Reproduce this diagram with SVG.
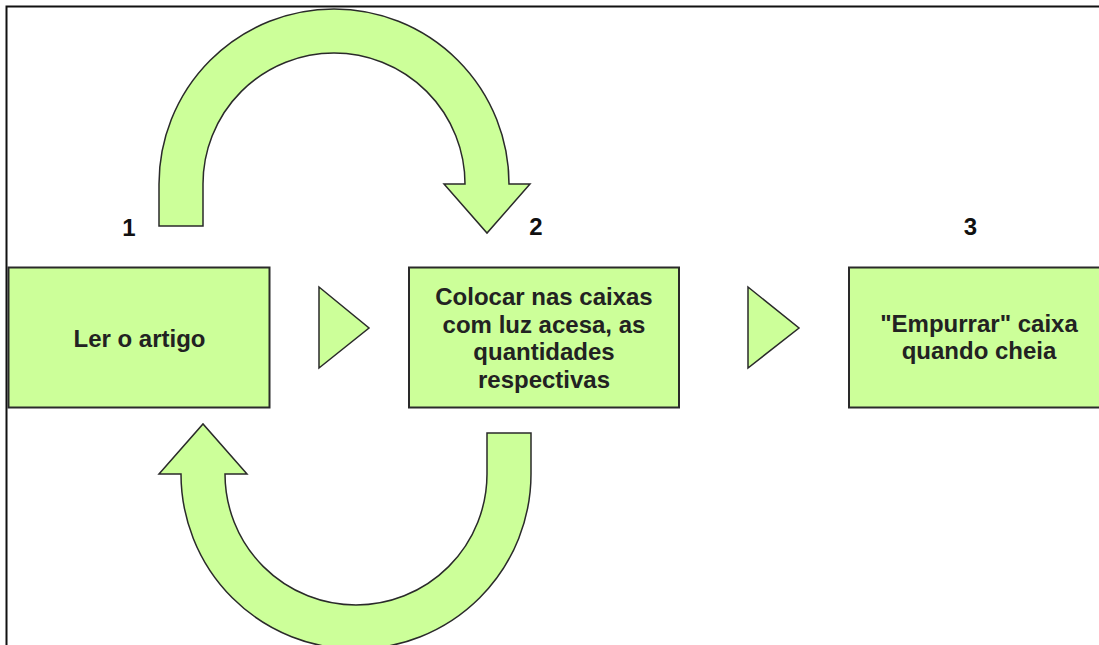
<svg xmlns="http://www.w3.org/2000/svg" width="1099" height="645" viewBox="0 0 1099 645">
<style>
.shape{fill:#ccff99;stroke:#2a2a2a;stroke-width:1.5;stroke-linejoin:miter}
.box{fill:#ccff99;stroke:#2a2a2a;stroke-width:2}
.lbl{font-family:"Liberation Sans",Arial,sans-serif;font-weight:bold;font-size:24px;fill:#222;text-anchor:middle}
.num{font-family:"Liberation Sans",Arial,sans-serif;font-weight:bold;font-size:24px;fill:#111;text-anchor:middle}
</style>
<rect x="0" y="0" width="1099" height="645" fill="#ffffff"/>
<rect x="6.5" y="6.5" width="1100" height="650" fill="none" stroke="#111" stroke-width="2"/>
<g id="connectors">
<path class="shape" d="M 159 226 L 159 184 A 175 175 0 0 1 509 184 L 530 184 L 487 233 L 444 184 L 465 184 A 131 131 0 0 0 203 184 L 203 226 Z"/>
<path class="shape" d="M 487 433 L 531 433 L 531 474 A 175 175 0 0 1 181 474 L 159 474 L 203 424 L 247 474 L 225 474 A 131 131 0 0 0 487 474 Z"/>
<polygon class="shape" points="319,287 369,328 319,368"/>
<polygon class="shape" points="748,287 799,328 748,368"/>
</g>
<g id="node1">
<rect class="box" x="8.5" y="267.5" width="261" height="140"/>
<text class="lbl" x="139.5" y="347">Ler o artigo</text>
<text class="num" x="129" y="236">1</text>
</g>
<g id="node2">
<rect class="box" x="409" y="267.5" width="270" height="140"/>
<text class="lbl" x="544" y="305">Colocar nas caixas</text>
<text class="lbl" x="544" y="333">com luz acesa, as</text>
<text class="lbl" x="544" y="360">quantidades</text>
<text class="lbl" x="544" y="388">respectivas</text>
<text class="num" x="536" y="235">2</text>
</g>
<g id="node3">
<rect class="box" x="849" y="267.5" width="262" height="140"/>
<text class="lbl" x="979" y="331.5">"Empurrar" caixa</text>
<text class="lbl" x="979" y="359">quando cheia</text>
<text class="num" x="970.5" y="235">3</text>
</g>
</svg>
